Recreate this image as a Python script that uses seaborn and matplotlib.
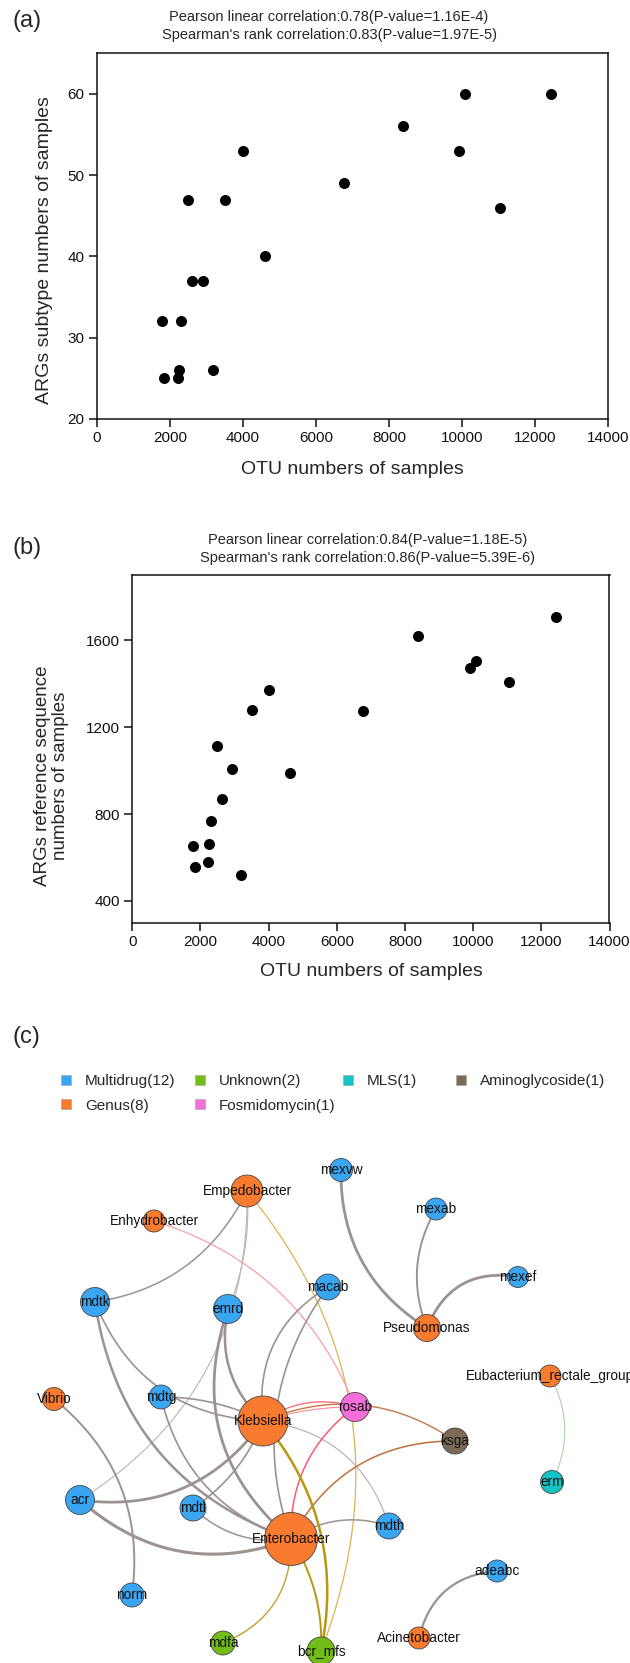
import matplotlib
matplotlib.use("Agg")
import matplotlib.pyplot as plt
import numpy as np
import pandas as pd
import seaborn as sns
from matplotlib.lines import Line2D

# ---------------- data: panels (a) and (b) ----------------
otu_numbers = [1785, 1833, 2218, 2250, 2298, 2488, 2618, 2915, 3178, 3508,
               4003, 4617, 6772, 8381, 9922, 10082, 11048, 12430]
args_subtype = [32, 25, 25, 26, 32, 47, 37, 37, 26, 47,
                53, 40, 49, 56, 53, 60, 46, 60]
args_refseq = [654, 555, 581, 661, 766, 1111, 869, 1005, 520, 1280,
               1370, 990, 1275, 1617, 1470, 1503, 1408, 1706]

title_a = ["Pearson linear correlation:0.78(P-value=1.16E-4)",
           "Spearman's rank correlation:0.83(P-value=1.97E-5)"]
title_b = ["Pearson linear correlation:0.84(P-value=1.18E-5)",
           "Spearman's rank correlation:0.86(P-value=5.39E-6)"]
xlabel = "OTU numbers of samples"
ylabel_a = "ARGs subtype numbers of samples"
ylabel_b = "ARGs reference sequence\nnumbers of samples"
xticks = [0, 2000, 4000, 6000, 8000, 10000, 12000, 14000]
yticks_a = [20, 30, 40, 50, 60]
yticks_b = [400, 800, 1200, 1600]

# ---------------- data: panel (c) network ----------------
categories = ["Multidrug", "Genus", "Unknown", "Fosmidomycin", "MLS", "Aminoglycoside"]
category_counts = [12, 8, 2, 1, 1, 1]
category_colors = ["#3aa6f2", "#f97b30", "#73bd18", "#f56ed9", "#14c3c3", "#7b6a55"]

node_names = ["Empedobacter", "mexvw", "Enhydrobacter", "mexab", "mexef", "macab",
              "emrd", "mdtk", "Pseudomonas", "Eubacterium_rectale_group", "Vibrio",
              "mdtg", "Klebsiella", "rosab", "ksga", "erm", "acr", "mdtl",
              "Enterobacter", "mdth", "adeabc", "norm", "mdfa", "bcr_mfs",
              "Acinetobacter"]
node_category = ["Genus", "Multidrug", "Genus", "Multidrug", "Multidrug", "Multidrug",
                 "Multidrug", "Multidrug", "Genus", "Genus", "Genus",
                 "Multidrug", "Genus", "Fosmidomycin", "Aminoglycoside", "MLS",
                 "Multidrug", "Multidrug", "Genus", "Multidrug", "Multidrug",
                 "Multidrug", "Unknown", "Unknown", "Genus"]
# layout coordinates of the network (pixel space of the panel)
node_x = [247, 341, 154, 436, 518, 328, 228, 95, 427, 550, 54, 161, 263, 355,
          455, 552, 80, 193, 291, 389, 497, 132, 223, 321, 419]
node_y = [1191, 1170, 1221, 1209, 1277, 1287, 1309, 1302, 1328, 1376, 1399,
          1397, 1421, 1407, 1441, 1482, 1500, 1508, 1539, 1526, 1571, 1595,
          1643, 1651, 1638]
node_radius = [16, 11.5, 11, 11, 10.5, 13, 14.5, 14.5, 13.5, 11, 11.5, 12, 25,
               14.5, 13, 11.5, 14.5, 13, 26.5, 13, 11, 12, 12, 14, 11]

edge_source = ["Empedobacter", "Empedobacter", "Empedobacter", "Empedobacter",
               "Enhydrobacter", "mexvw", "mexab", "mexef", "macab", "macab",
               "emrd", "emrd", "mdtk", "mdtk", "mdtg", "mdtg", "Vibrio", "acr",
               "acr", "mdtl", "mdtl", "Klebsiella", "Enterobacter", "adeabc",
               "Eubacterium_rectale_group", "Klebsiella", "Klebsiella", "rosab",
               "Klebsiella", "Enterobacter", "Klebsiella", "Enterobacter",
               "Enterobacter"]
edge_target = ["mdtk", "emrd", "acr", "bcr_mfs", "rosab", "Pseudomonas",
               "Pseudomonas", "Pseudomonas", "Klebsiella", "Enterobacter",
               "Klebsiella", "Enterobacter", "Enterobacter", "Klebsiella",
               "Klebsiella", "Enterobacter", "norm", "Klebsiella", "Enterobacter",
               "Klebsiella", "Enterobacter", "mdth", "mdth", "Acinetobacter",
               "erm", "rosab", "rosab", "Enterobacter", "ksga", "ksga",
               "bcr_mfs", "bcr_mfs", "mdfa"]
GRAY, LGRAY = "#9c9292", "#bdb4b4"
edge_color = [GRAY, LGRAY, LGRAY, "#d6b552", "#f7a0a8", GRAY, GRAY, GRAY, GRAY,
              GRAY, GRAY, GRAY, GRAY, GRAY, GRAY, GRAY, GRAY, GRAY, GRAY, GRAY,
              GRAY, LGRAY, GRAY, GRAY, "#a9cfa9", "#ff6f7d", "#ff8a95", "#ff5a6e",
              "#c4784a", "#c0703c", "#b8980e", "#b8980e", "#c2a030"]
edge_width = [1.1, 0.8, 0.8, 0.9, 0.9, 2.0, 1.4, 2.0, 1.2, 1.2, 1.8, 2.0, 1.8,
              1.2, 1.2, 1.2, 1.4, 2.0, 2.2, 1.2, 1.1, 0.9, 1.1, 1.6, 0.8, 1.0,
              0.8, 1.1, 1.0, 1.1, 1.8, 1.4, 1.0]
edge_bend = [-0.13, -0.06, -0.14, -0.145, -0.12, 0.14, 0.12, 0.2, 0.16, 0.13,
             0.14, 0.17, 0.15, 0.16, -0.06, 0.14, -0.14, 0.15, 0.15, 0.08, 0.12,
             -0.16, -0.12, 0.18, -0.13, -0.12, -0.04, 0.13, -0.135, -0.15,
             -0.12, -0.08, -0.17]

# ---------------- style ----------------
sns.set_style("ticks")
plt.rcParams["font.family"] = ["Liberation Sans", "DejaVu Sans"]
plt.rcParams["axes.linewidth"] = 1.1
plt.rcParams["xtick.major.width"] = 1.1
plt.rcParams["ytick.major.width"] = 1.1
plt.rcParams["xtick.major.size"] = 5.5
plt.rcParams["ytick.major.size"] = 5.5
plt.rcParams["xtick.color"] = "#111111"
plt.rcParams["ytick.color"] = "#111111"
plt.rcParams["axes.edgecolor"] = "#111111"

W, H = 630, 1663
fig = plt.figure(figsize=(W / 100, H / 100), dpi=100)


def fx(px):
    return px / W


def fy(py):
    return 1 - py / H


def scatter_panel(rect, yvals, ylim, yticks):
    left, top, right, bottom = rect
    ax = fig.add_axes([fx(left), fy(bottom), (right - left) / W, (bottom - top) / H])
    sns.scatterplot(x=otu_numbers, y=yvals, ax=ax, color="black", s=63,
                    linewidth=0, legend=False)
    ax.set_xlim(0, 14000)
    ax.set_ylim(*ylim)
    ax.set_xticks(xticks)
    ax.set_yticks(yticks)
    ax.tick_params(labelsize=11, pad=3.5)
    for sp in ax.spines.values():
        sp.set_visible(True)
    return ax


ax_a = scatter_panel((96.7, 53.3, 608.3, 419.0), args_subtype, (20, 65), yticks_a)
ax_b = scatter_panel((132.3, 575.0, 609.5, 922.7), args_refseq, (300, 1900), yticks_b)

# panel letters
for lab, y in [("(a)", 21), ("(b)", 548), ("(c)", 1037)]:
    fig.text(fx(12), fy(y), lab, fontsize=17, ha="left", va="center")

# correlation titles
for line, y in zip(title_a, [16.7, 35.0]):
    fig.text(fx(329), fy(y), line, fontsize=10.5, ha="center", va="center")
for line, y in zip(title_b, [540.0, 558.3]):
    fig.text(fx(367.6), fy(y), line, fontsize=10.5, ha="center", va="center")

# axis labels
fig.text(fx(352.5), fy(470), xlabel, fontsize=14, ha="center", va="center")
fig.text(fx(370.9), fy(971.7), xlabel, fontsize=14, ha="center", va="center")
fig.text(fx(45), fy(250), ylabel_a, fontsize=14, ha="center", va="center", rotation=90)
fig.text(fx(51.7), fy(776), ylabel_b, fontsize=13.5, ha="center", va="center",
         rotation=90, multialignment="center", linespacing=1.1)

# ---------------- panel (c): legend ----------------
palette = dict(zip(categories, category_colors))
legend_cols = [[0, 1], [2, 3], [4], [5]]
legend_left = [59.9, 193.9, 341.4, 454.9]
for col, left in zip(legend_cols, legend_left):
    handles = [Line2D([], [], marker="s", linestyle="", markersize=7,
                      markerfacecolor=category_colors[i], markeredgecolor="#aaaaaa",
                      markeredgewidth=0.5) for i in col]
    labels = [f"{categories[i]}({category_counts[i]})" for i in col]
    fig.legend(handles, labels, loc="upper left", bbox_to_anchor=(fx(left), fy(1074)),
               frameon=False, borderpad=0, borderaxespad=0, handlelength=0.8,
               handletextpad=0.85, labelspacing=0.7, fontsize=11)

# ---------------- panel (c): network ----------------
top_px = 1150
ax_n = fig.add_axes([0, 0, 1, (H - top_px) / H])
ax_n.set_xlim(0, W)
ax_n.set_ylim(H, top_px)
ax_n.axis("off")

nodes = pd.DataFrame({"name": node_names, "cat": node_category, "x": node_x,
                      "y": node_y, "r": node_radius})
nodes["area"] = (2 * nodes["r"] * 0.72) ** 2
pos = {n: (x, y) for n, x, y in zip(node_names, node_x, node_y)}

t = np.linspace(0, 1, 60)[:, None]
for s, d, c, w, b in zip(edge_source, edge_target, edge_color, edge_width, edge_bend):
    p0 = np.array(pos[s], float)
    p2 = np.array(pos[d], float)
    dvec = p2 - p0
    L = np.hypot(*dvec)
    nvec = np.array([-dvec[1], dvec[0]]) / L
    p1 = (p0 + p2) / 2 + 2 * b * L * nvec
    curve = (1 - t) ** 2 * p0 + 2 * (1 - t) * t * p1 + t ** 2 * p2
    ax_n.plot(curve[:, 0], curve[:, 1], color=c, lw=w, zorder=1,
              solid_capstyle="round")

amin, amax = nodes["area"].min(), nodes["area"].max()
sns.scatterplot(data=nodes, x="x", y="y", hue="cat", palette=palette,
                size="area", sizes=(amin, amax), size_norm=(amin, amax),
                edgecolor="#444444", linewidth=0.6, legend=False, ax=ax_n, zorder=2)
ax_n.set_xlim(0, W)
ax_n.set_ylim(H, top_px)
ax_n.axis("off")

for n, x, y in zip(node_names, node_x, node_y):
    ax_n.text(x, y, n, ha="center", va="center", fontsize=9.8, color="#111111",
              zorder=4, clip_on=False)

fig.savefig("out.png", dpi=100)
